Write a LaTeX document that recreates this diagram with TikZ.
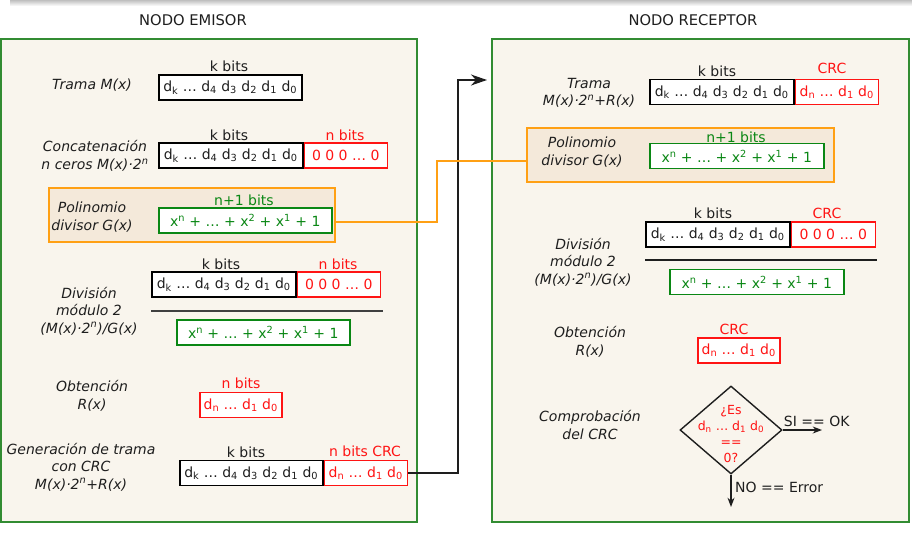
\documentclass[tikz,border=0pt]{standalone}
\usepackage{fontspec}
\setmainfont{DejaVu Sans}
\usetikzlibrary{positioning, arrows.meta, shapes.geometric}
\definecolor{fondo}{RGB}{249,245,237}
\definecolor{marco}{RGB}{50,140,50}
\definecolor{rojo}{RGB}{255,20,20}
\definecolor{verde}{RGB}{10,135,20}
\definecolor{naranja}{RGB}{255,160,20}
\definecolor{fondonar}{RGB}{244,233,218}
\definecolor{texto}{RGB}{30,30,30}
\newcommand{\dk}{d\textsubscript{k} … d\textsubscript{4} d\textsubscript{3} d\textsubscript{2} d\textsubscript{1} d\textsubscript{0}}
\newcommand{\dn}{d\textsubscript{n} … d\textsubscript{1} d\textsubscript{0}}
\newcommand{\gx}{x\textsuperscript{n} + … + x\textsuperscript{2} + x\textsuperscript{1} + 1}

\begin{document}
\begin{tikzpicture}[x=1pt, y=-1pt, >=Stealth,
    txt/.style={font=\fontsize{14}{17.5}\selectfont, text=texto, inner sep=1pt, align=center},
    lbl/.style={txt, font=\fontsize{14}{17.5}\selectfont\itshape},
    caja/.style={txt, draw, line width=1.5pt, fill=white, minimum height=25pt, inner sep=1pt, anchor=west},
    cajaroja/.style={caja, draw=rojo, text=rojo},
    cajaverde/.style={caja, draw=verde, text=verde},
    nodo/.style={draw=marco, line width=1.8pt, fill=fondo},
    poli/.style={draw=naranja, line width=1.5pt, fill=fondonar}]
    \useasboundingbox (0,0) rectangle (912,536);
    \shade[top color=black!25, bottom color=white] (10,0) rectangle (912,6);

    % contenedores
    \draw[nodo] (1,39) rectangle (417,522);
    \draw[nodo] (492,39) rectangle (909,522);
    \node[txt, font=\fontsize{14.7}{17.5}\selectfont] (temisor) at (193,20) {NODO EMISOR};
    \node[txt, font=\fontsize{14.7}{17.5}\selectfont] (treceptor) at (693,20) {NODO RECEPTOR};
    \draw[poli] (49,188) rectangle (335,242);
    \draw[poli] (527,128) rectangle (834,182);
    \coordinate (pe) at (335,222);
    \coordinate (pr) at (527,161);

    % emisor
    \node[lbl] (lm) at (92,85) {Trama M(x)};
    \node[caja, minimum width=143pt] (m) at (158,87.5) {\dk};
    \node[txt] at (229,66) {k bits};

    \node[lbl] (lc) at (95,156) {Concatenación\\n ceros M(x)·2\textsuperscript{n}};
    \node[caja, minimum width=144pt] (c) at (158,155.5) {\dk};
    \node[cajaroja, minimum width=83pt] (cz) at (c.east) {0 0 0 … 0};
    \node[txt] at (229,135) {k bits};
    \node[txt, text=rojo] at (345,135) {n bits};

    \node[lbl] (lg) at (92,217) {Polinomio\\divisor G(x)};
    \node[cajaverde, minimum width=173pt] (g) at (158,220.5) {\gx};
    \node[txt, text=verde] at (244,200) {n+1 bits};

    \node[lbl] (ld) at (89,311) {División\\módulo 2\\(M(x)·2\textsuperscript{n})/G(x)};
    \node[caja, minimum width=144pt] (d) at (151,284.5) {\dk};
    \node[cajaroja, minimum width=83pt] (dz) at (d.east) {0 0 0 … 0};
    \node[txt] at (221,264) {k bits};
    \node[txt, text=rojo] at (338,264) {n bits};
    \draw[line width=1.5pt, texto!85] (151,311) -- (383,311);
    \node[cajaverde, minimum width=173pt] (dg) at (176,332.5) {\gx};

    \node[lbl] (lr) at (92,396) {Obtención\\R(x)};
    \node[cajaroja, minimum width=82pt] (r) at (199,405) {\dn};
    \node[txt, text=rojo] at (241,383) {n bits};

    \node[lbl] (lt) at (81,467) {Generación de trama\\con CRC\\M(x)·2\textsuperscript{n}+R(x)};
    \node[caja, minimum width=143pt] (t) at (179,473) {\dk};
    \node[cajaroja, minimum width=83pt] (tc) at (t.east) {\dn};
    \node[txt] at (246,452) {k bits};
    \node[txt, text=rojo] at (365,451) {n bits CRC};

    % receptor
    \node[lbl] (rlm) at (589,93) {Trama\\M(x)·2\textsuperscript{n}+R(x)};
    \node[caja, minimum width=144pt] (rm) at (649,92) {\dk};
    \node[cajaroja, minimum width=83pt] (rmc) at (rm.east) {\dn};
    \node[txt] at (717,71) {k bits};
    \node[txt, text=rojo] at (832,68) {CRC};

    \node[lbl] (rlg) at (582,152) {Polinomio\\divisor G(x)};
    \node[cajaverde, minimum width=174pt] (rg) at (649,156) {\gx};
    \node[txt, text=verde] at (736,137) {n+1 bits};

    \node[lbl] (rld) at (583,262) {División\\módulo 2\\(M(x)·2\textsuperscript{n})/G(x)};
    \node[caja, minimum width=144pt] (rd) at (645,234.5) {\dk};
    \node[cajaroja, minimum width=84pt] (rdz) at (rd.east) {0 0 0 … 0};
    \node[txt] at (713,213) {k bits};
    \node[txt, text=rojo] at (827,213) {CRC};
    \draw[line width=1.5pt, texto] (645,260) -- (877,260);
    \node[cajaverde, minimum width=174pt] (rdg) at (669,282) {\gx};

    \node[lbl] (rlr) at (590,342) {Obtención\\R(x)};
    \node[cajaroja, minimum width=82pt] (rr) at (697,350.5) {\dn};
    \node[txt, text=rojo] at (734,329) {CRC};

    \node[lbl] (rlc) at (590,425) {Comprobación\\del CRC};
    \node[diamond, draw=texto, line width=1.4pt, minimum width=102pt, minimum height=88pt, inner sep=0pt] (rombo) at (731,430) {};
    \node[txt, text=rojo, font=\fontsize{12.5}{16}\selectfont] (prg) at ([yshift=-4pt]rombo.center) {¿Es\\\dn\\==\\0?};
    \coordinate (ok) at (822,430);
    \coordinate (err) at (731,507);
    \draw[->, line width=1.4pt, texto] (rombo.east) -- (ok);
    \draw[->, line width=1.4pt, texto] (rombo.south) -- (err);
    \node[txt, anchor=south west] (si) at ([xshift=0pt, yshift=2pt]rombo.east) {SI == OK};
    \node[txt, anchor=west] (no) at ([xshift=3pt, yshift=-13pt]rombo.south) {NO == Error};

    % conexiones
    \coordinate (llega) at (487,80);
    \draw[line width=1.4pt, texto, -{Stealth[length=16pt, width=11pt, inset=5pt]}] (tc.east) -- (458,473) |- (llega);
    \draw[line width=1.4pt, naranja] (pe) -- (437,222) |- (pr);
\end{tikzpicture}
\end{document}
